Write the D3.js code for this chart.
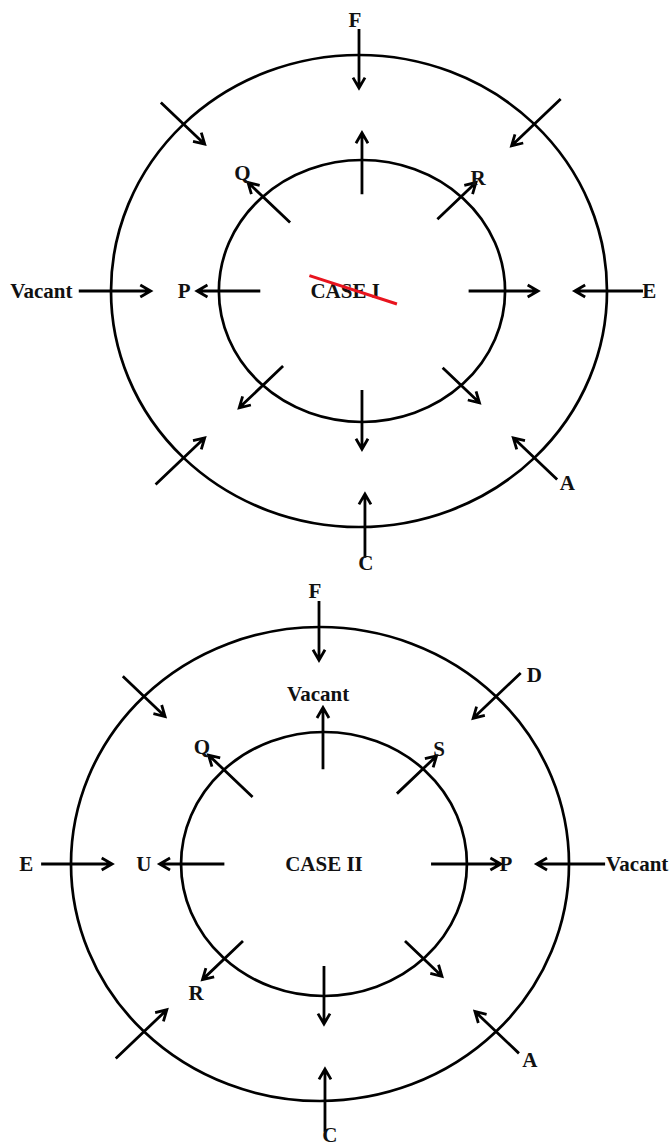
<!DOCTYPE html>
<html>
<head>
<meta charset="utf-8">
<script src="https://cdn.jsdelivr.net/npm/d3@7"></script>
<style>
  body { margin: 0; background: #fff; }
  svg { display: block; }
  text { font-family: "Liberation Serif", "Times New Roman", serif; font-weight: bold; fill: #111; }
</style>
</head>
<body>
<svg width="672" height="1146"></svg>
<script>
// arrows: [angle in degrees, start radius, end radius (arrow tip), x shift] in units of the outer ring
const case1Arrows = [
  [90, 1.11, 0.86, 0.0],
  [135, 1.13, 0.88, 0.0],
  [45, 1.15, 0.87, 0.0],
  [180, 1.13, 0.84, 0.0],
  [0, 1.145, 0.87, 0.0],
  [225, 1.16, 0.88, 0.0],
  [315, 1.13, 0.88, 0.0],
  [270, 1.13, 0.86, 0.024],
  [90, 0.41, 0.67, 0.012],
  [135, 0.41, 0.65, 0.012],
  [45, 0.43, 0.65, 0.012],
  [180, 0.41, 0.665, 0.012],
  [0, 0.43, 0.71, 0.012],
  [225, 0.45, 0.70, 0.012],
  [315, 0.46, 0.67, 0.012],
  [270, 0.42, 0.67, 0.012]
];
const case2Arrows = [
  [90, 1.11, 0.86, -0.004],
  [135, 1.12, 0.88, 0.0],
  [45, 1.14, 0.87, 0.0],
  [180, 1.12, 0.835, 0.0],
  [0, 1.145, 0.87, 0.0],
  [225, 1.16, 0.87, 0.0],
  [315, 1.13, 0.88, 0.0],
  [270, 1.13, 0.865, 0.02],
  [90, 0.40, 0.66, 0.012],
  [135, 0.40, 0.65, 0.012],
  [45, 0.42, 0.645, 0.012],
  [180, 0.40, 0.66, 0.016],
  [0, 0.43, 0.71, 0.016],
  [225, 0.46, 0.69, 0.016],
  [315, 0.46, 0.67, 0.016],
  [270, 0.43, 0.675, 0.016]
];

// labels: [text, x, y, anchor] in units of the outer ring
const case1Labels = [
  ["F", -0.016, -1.15, "middle"],
  ["Q", -0.47, -0.50, "middle"],
  ["R", 0.48, -0.48, "middle"],
  ["Vacant", -1.155, 0, "end"],
  ["P", -0.705, 0, "middle"],
  ["CASE I", -0.056, 0, "middle"],
  ["E", 1.17, 0, "middle"],
  ["A", 0.84, 0.81, "middle"],
  ["C", 0.028, 1.15, "middle"]
];
const case2Labels = [
  ["F", -0.02, -1.155, "middle"],
  ["D", 0.83, -0.80, "start"],
  ["Vacant", -0.008, -0.717, "middle"],
  ["Q", -0.474, -0.494, "middle"],
  ["S", 0.478, -0.485, "middle"],
  ["E", -1.18, 0, "middle"],
  ["U", -0.707, 0, "middle"],
  ["CASE II", 0.016, 0, "middle"],
  ["P", 0.747, 0, "middle"],
  ["Vacant", 1.149, 0, "start"],
  ["R", -0.498, 0.544, "middle"],
  ["A", 0.843, 0.827, "middle"],
  ["C", 0.04, 1.14, "middle"]
];

// inner ring: [x shift, rx, ry] in units of the outer ring
const case1Inner = [0.012, 0.577, 0.555];
const case2Inner = [0.016, 0.574, 0.557];

const svg = d3.select("svg");

function drawCase(cx, cy, rx, ry, arrows, labels, inner) {
  const x = d3.scaleLinear().domain([-1, 1]).range([cx - rx, cx + rx]);
  const y = d3.scaleLinear().domain([-1, 1]).range([cy - ry, cy + ry]);
  const g = svg.append("g");

  // outer and inner rings
  g.append("ellipse")
    .attr("cx", x(0)).attr("cy", y(0))
    .attr("rx", x(1) - x(0)).attr("ry", y(1) - y(0))
    .attr("fill", "none").attr("stroke", "#000").attr("stroke-width", 2.7);
  g.append("ellipse")
    .attr("cx", x(inner[0])).attr("cy", y(0))
    .attr("rx", x(inner[1]) - x(0)).attr("ry", y(inner[2]) - y(0))
    .attr("fill", "none").attr("stroke", "#000").attr("stroke-width", 2.7);

  const head = 12, spread = 30 * Math.PI / 180;
  g.selectAll("path.arrow")
    .data(arrows)
    .enter()
    .append("path")
    .attr("class", "arrow")
    .attr("d", function (d) {
      const a = d[0] * Math.PI / 180;
      const x0 = x(d[3] + d[1] * Math.cos(a)), y0 = y(-d[1] * Math.sin(a));
      const x1 = x(d[3] + d[2] * Math.cos(a)), y1 = y(-d[2] * Math.sin(a));
      const t = Math.atan2(y1 - y0, x1 - x0);
      const h1 = [x1 - head * Math.cos(t - spread), y1 - head * Math.sin(t - spread)];
      const h2 = [x1 - head * Math.cos(t + spread), y1 - head * Math.sin(t + spread)];
      return "M" + x0 + "," + y0 + "L" + x1 + "," + y1 +
        "M" + h1[0] + "," + h1[1] + "L" + x1 + "," + y1 + "L" + h2[0] + "," + h2[1];
    })
    .attr("fill", "none").attr("stroke", "#000").attr("stroke-width", 2.8)
    .attr("stroke-linejoin", "miter");

  g.selectAll("text")
    .data(labels)
    .enter()
    .append("text")
    .attr("x", d => x(d[1]))
    .attr("y", d => y(d[2]))
    .attr("dy", "0.35em")
    .attr("text-anchor", d => d[3])
    .style("font-size", "21px")
    .text(d => d[0]);

  return {x: x, y: y, g: g};
}

const c1 = drawCase(359, 291, 248, 236, case1Arrows, case1Labels, case1Inner);
drawCase(320, 864, 249, 237, case2Arrows, case2Labels, case2Inner);

// red strike through "CASE I": [x0, y0, x1, y1] in units
const strike = [-0.2, -0.065, 0.153, 0.055];
c1.g.append("line")
  .attr("x1", c1.x(strike[0])).attr("y1", c1.y(strike[1]))
  .attr("x2", c1.x(strike[2])).attr("y2", c1.y(strike[3]))
  .attr("stroke", "#e8141e").attr("stroke-width", 3);
</script>
</body>
</html>
